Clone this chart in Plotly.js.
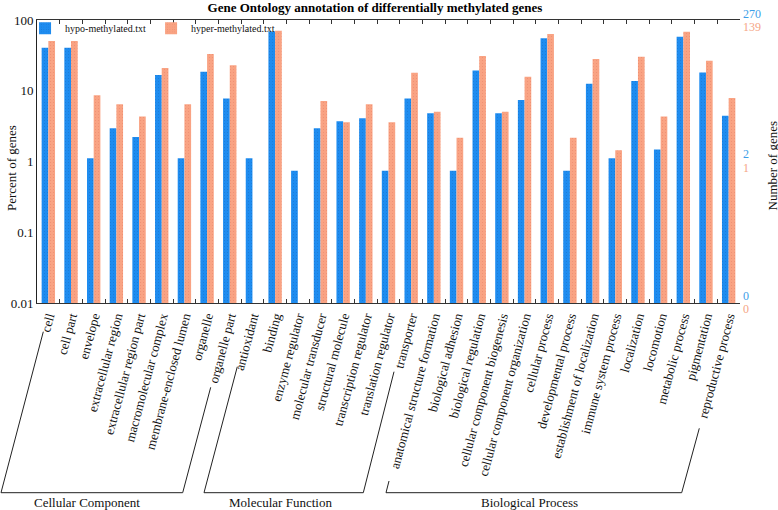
<!DOCTYPE html>
<html>
<head>
<meta charset="utf-8">
<script src="https://cdn.plot.ly/plotly-3.0.1.min.js"></script>
<style>html,body{margin:0;padding:0;background:#fff;}#chart{width:778px;height:510px;}</style>
</head>
<body>
<div id="chart"></div>
<script>
// ---- data ----
var categories = [
  "cell", "cell part", "envelope", "extracellular region", "extracellular region part",
  "macromolecular complex", "membrane-enclosed lumen", "organelle", "organelle part",
  "antioxidant", "binding", "enzyme regulator", "molecular transducer", "structural molecule",
  "transcription regulator", "translation regulator", "transporter",
  "anatomical structure formation", "biological adhesion", "biological regulation",
  "cellular component biogenesis", "cellular component organization", "cellular process",
  "developmental process", "establishment of localization", "immune system process",
  "localization", "locomotion", "metabolic process", "pigmentation", "reproductive process"
];
var hypoPercent = [40.4, 40.4, 1.11, 2.96, 2.22, 16.7, 1.11, 18.5, 7.78,
  1.11, 68.5, 0.74, 2.96, 3.70, 4.07, 0.74, 7.78,
  4.81, 0.74, 19.3, 4.81, 7.41, 55.2, 0.74, 12.6, 1.11, 13.7, 1.48, 58.1, 18.1, 4.44];
var hyperPercent = [50.4, 50.4, 8.63, 6.47, 4.32, 20.9, 6.47, 33.1, 23.0,
  null, 70.5, null, 7.19, 3.60, 6.47, 3.60, 18.0,
  5.04, 2.16, 30.9, 5.04, 15.8, 63.3, 2.16, 28.1, 1.44, 30.2, 4.32, 68.3, 26.6, 7.91];
var seriesNames = ["hypo-methylated.txt", "hyper-methylated.txt"];
var groupNames = ["Cellular Component", "Molecular Function", "Biological Process"];
var leftTickVals = [0.01, 0.1, 1, 10, 100];
var leftTickText = ["0.01", "0.1", "1", "10", "100"];
var rightHypoLabels = ["270", "2", "0"];
var rightHyperLabels = ["139", "1", "0"];
var chartTitle = "Gene Ontology annotation of differentially methylated genes";
var yTitleLeft = "Percent of genes";
var yTitleRight = "Number of genes";

// ---- style ----
var FONT = "Liberation Serif";
var BLUE = "#1E8CF0";
var ORANGE = "#F9A383";
var BLUE_TXT = "#3D9EE8";
var ORANGE_TXT = "#F5A585";

var traces = [
  {
    type: "bar", name: seriesNames[0], x: categories, y: hypoPercent,
    marker: { color: BLUE, line: { width: 0 },
      pattern: { shape: ".", bgcolor: BLUE, fgcolor: "#1565B5", fgopacity: 0.45, size: 3, solidity: 0.12 } },
    hoverinfo: "x+y"
  },
  {
    type: "bar", name: seriesNames[1], x: categories, y: hyperPercent,
    marker: { color: ORANGE, line: { width: 0 },
      pattern: { shape: ".", bgcolor: ORANGE, fgcolor: "#E0735A", fgopacity: 0.45, size: 3, solidity: 0.12 } },
    hoverinfo: "x+y"
  }
];

// plot area in pixels: x 37..740, y 20..303
function px(x) { return (x - 37) / 703; }
function py(y) { return (303 - y) / 283; }
function seg(x0, y0, x1, y1) {
  return { type: "line", xref: "paper", yref: "paper",
    x0: px(x0), y0: py(y0), x1: px(x1), y1: py(y1),
    line: { color: "#222", width: 1 } };
}
var shapes = [
  // Cellular Component bracket
  seg(43.3, 331.7, 1, 492.7), seg(1, 492.7, 182.7, 492.7), seg(182.7, 492.7, 210.7, 387.3),
  // Molecular Function bracket
  seg(237.3, 366.7, 204, 492.7), seg(204, 492.7, 363.3, 492.7), seg(363.3, 492.7, 394, 371.7),
  // Biological Process bracket
  seg(389, 481, 386, 492.7), seg(386, 492.7, 681.7, 492.7), seg(681.7, 492.7, 699.3, 428.3)
];

var annotations = [
  { text: groupNames[0], x: px(87), y: py(502) },
  { text: groupNames[1], x: px(280), y: py(502) },
  { text: groupNames[2], x: px(529), y: py(502) }
].map(function (a) {
  return Object.assign({ xref: "paper", yref: "paper", showarrow: false,
    xanchor: "center", yanchor: "middle", font: { family: FONT, size: 13, color: "#111" } }, a);
});

var rightY = [[14, 27], [154, 168], [296, 308.7]];
for (var i = 0; i < 3; i++) {
  annotations.push({ text: rightHypoLabels[i], xref: "paper", yref: "paper", x: 1, y: py(rightY[i][0]),
    xanchor: "left", yanchor: "middle", xshift: 1, showarrow: false,
    font: { family: FONT, size: 12, color: BLUE_TXT } });
  annotations.push({ text: rightHyperLabels[i], xref: "paper", yref: "paper", x: 1, y: py(rightY[i][1]),
    xanchor: "left", yanchor: "middle", xshift: 1, showarrow: false,
    font: { family: FONT, size: 12, color: ORANGE_TXT } });
}
annotations.push({ text: yTitleLeft, xref: "paper", yref: "paper", x: px(12), y: py(168),
  xanchor: "center", yanchor: "middle", textangle: -90, showarrow: false,
  font: { family: FONT, size: 13, color: "#111" } });
annotations.push({ text: yTitleRight, xref: "paper", yref: "paper", x: px(771.5), y: py(166),
  xanchor: "center", yanchor: "middle", textangle: -90, showarrow: false,
  font: { family: FONT, size: 13, color: "#111" } });

var layout = {
  width: 778, height: 510,
  margin: { l: 37, r: 38, t: 20, b: 207, pad: 0 },
  paper_bgcolor: "#fff", plot_bgcolor: "#fff",
  font: { family: FONT, size: 12, color: "#111" },
  title: { text: "<b>" + chartTitle + "</b>", x: 375 / 778, xanchor: "center",
    y: 1 - 7.5 / 510, yanchor: "middle", yref: "container",
    font: { family: FONT, size: 13, color: "#000" } },
  barmode: "group", bargap: 0.41, bargroupgap: 0,
  showlegend: true,
  legend: { orientation: "h", x: -0.017, y: 1.022, xanchor: "left", yanchor: "top",
    bgcolor: "rgba(0,0,0,0)", font: { family: FONT, size: 10, color: "#111" },
    itemwidth: 30, tracegroupgap: 0 },
  xaxis: {
    type: "category", range: [-0.5, categories.length - 0.5],
    tickangle: -75, tickfont: { family: FONT, size: 13, color: "#111" },
    ticks: "inside", tickson: "boundaries", ticklen: 4, tickcolor: "#333", tickwidth: 1,
    showline: true, linecolor: "#333", linewidth: 1, mirror: "ticks",
    showgrid: false, zeroline: false, automargin: false
  },
  yaxis: {
    type: "log", range: [-2, 2], tickvals: leftTickVals, ticktext: leftTickText,
    tickfont: { family: FONT, size: 13, color: "#111" }, ticks: "",
    showline: true, linecolor: "#222", linewidth: 1,
    showgrid: false, zeroline: false, automargin: false
  },
  yaxis2: {
    type: "log", range: [-2, 2], overlaying: "y", side: "right",
    tickvals: [1], ticks: "inside", ticklen: 3, tickcolor: "#555",
    showticklabels: false, showline: true, linecolor: "#999", linewidth: 1,
    showgrid: false, zeroline: false, automargin: false
  },
  shapes: shapes,
  annotations: annotations
};

Plotly.newPlot("chart", traces, layout, { displayModeBar: false, staticPlot: true });
</script>
</body>
</html>
